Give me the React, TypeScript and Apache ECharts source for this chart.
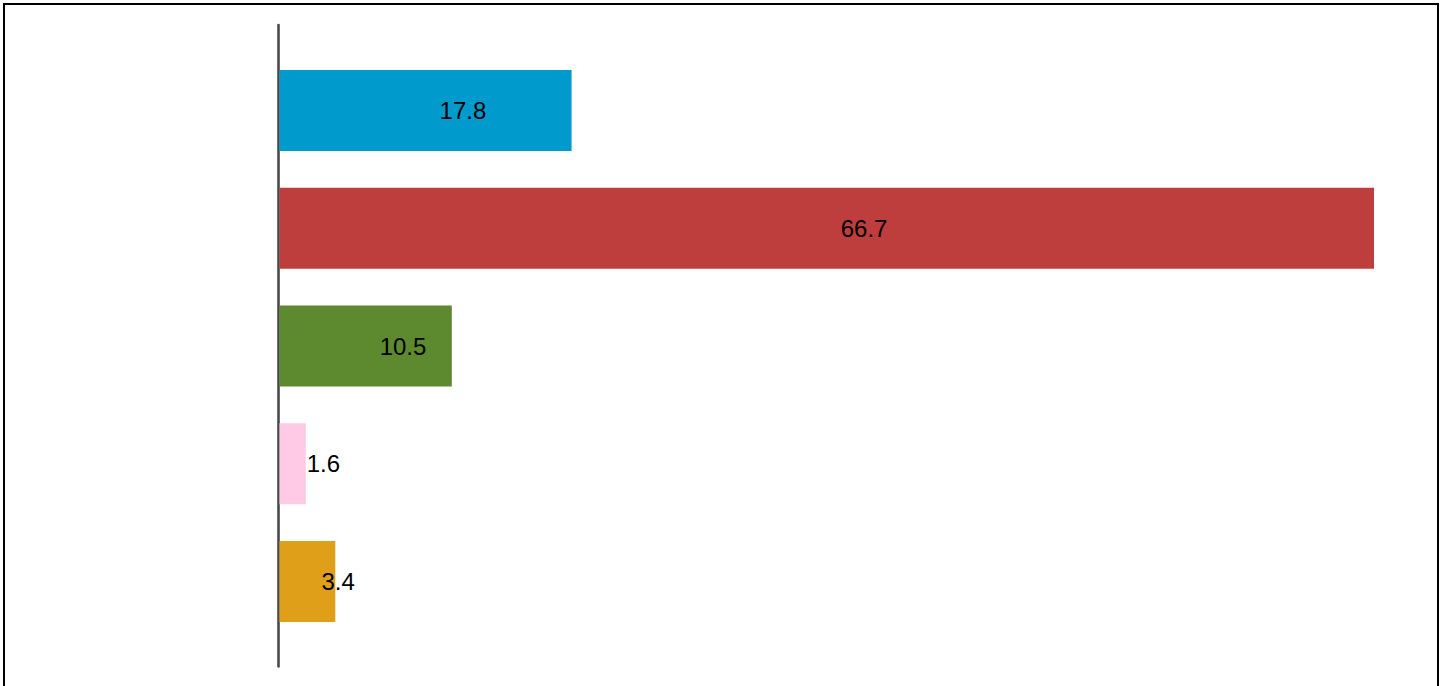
import React, { useEffect, useRef } from "react";
import * as echarts from "echarts";

const categories = ["A", "B", "C", "D", "E"];
const values = [17.8, 66.7, 10.5, 1.6, 3.4];
const colors = ["#009ACD", "#BE3E3E", "#5E8A2F", "#FFCAE6", "#DF9F19"];

export default function App() {
  const ref = useRef<HTMLDivElement>(null);
  useEffect(() => {
    const chart = echarts.init(ref.current!, null, { renderer: "svg" });
    chart.setOption({
      animation: false,
      grid: [
        { left: 279.5, width: 1094.5, top: 51.6, height: 588.8 },
        { left: 278.2, width: 1095, top: 25, height: 641.5 },
      ],
      xAxis: [
        { type: "value", gridIndex: 0, min: 0, max: 66.7, show: false },
        { type: "value", gridIndex: 1, min: 0, max: 1, show: false },
      ],
      yAxis: [
        {
          type: "category",
          gridIndex: 0,
          data: categories,
          inverse: true,
          axisLine: { show: false },
          axisTick: { show: false },
          axisLabel: { show: false },
        },
        {
          type: "value",
          gridIndex: 1,
          min: 0,
          max: 1,
          axisLine: { show: true, lineStyle: { color: "#4a4a4a", width: 2.6 } },
          axisTick: { show: false },
          axisLabel: { show: false },
          splitLine: { show: false },
        },
      ],
      graphic: [
        {
          type: "rect",
          shape: { x: 4, y: 4, width: 1434, height: 720 },
          style: { fill: "none", stroke: "#000", lineWidth: 2 },
          silent: true,
          z: 100,
        },
      ],
      series: [
        {
          type: "bar",
          xAxisIndex: 0,
          yAxisIndex: 0,
          barWidth: 81,
          data: values.map((v, i) => ({ value: v, itemStyle: { color: colors[i] } })),
          label: {
            show: true,
            position: "inside",
            align: "left",
            offset: [14, 0],
            color: "#000",
            fontSize: 24,
            fontFamily: "Liberation Sans, Arial, sans-serif",
          },
        },
      ],
    });
    return () => chart.dispose();
  }, []);
  return (
    <div
      ref={ref}
      style={{ position: "absolute", left: 0, top: 0, width: 1445, height: 686 }}
    />
  );
}
